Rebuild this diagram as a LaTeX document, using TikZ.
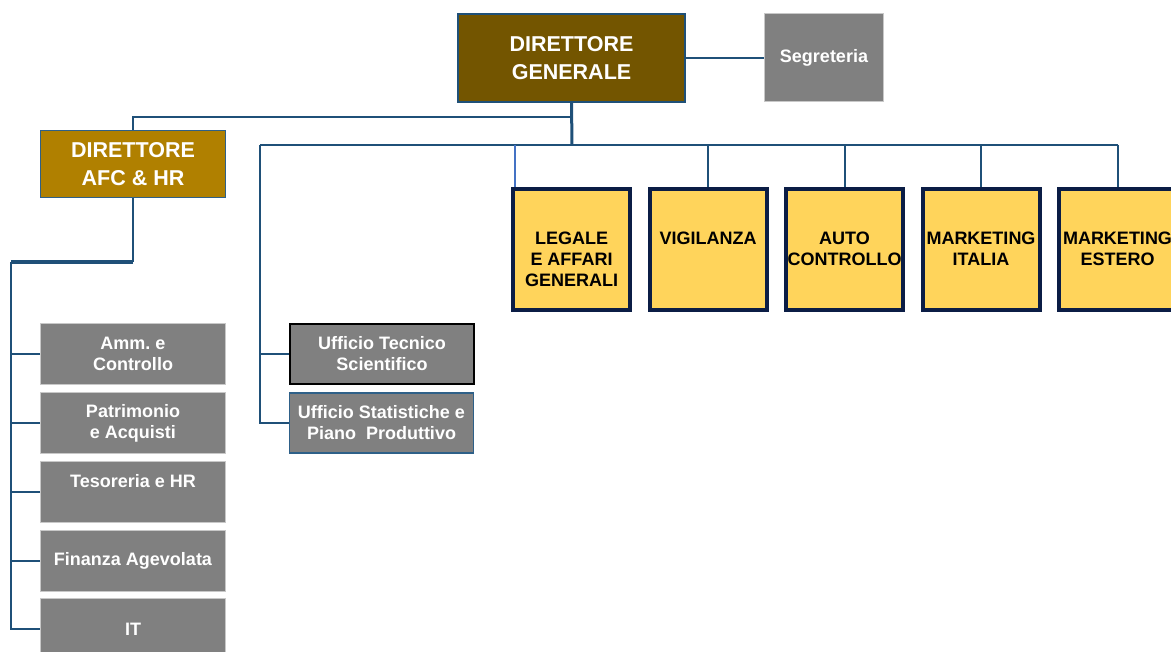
\documentclass[tikz,border=0pt]{standalone}
\usepackage{fontspec}
\setmainfont{Liberation Sans}
\usetikzlibrary{calc}
\definecolor{lineblue}{HTML}{1F5078}
\definecolor{lightblue}{HTML}{4472C4}
\definecolor{dgbrown}{HTML}{735500}
\definecolor{afcgold}{HTML}{B08000}
\definecolor{ybox}{HTML}{FFD45B}
\definecolor{navy}{HTML}{0B1D45}
\definecolor{gbox}{HTML}{808080}
\definecolor{gedge}{HTML}{C8C8C8}
\definecolor{statedge}{HTML}{2E6088}
\begin{document}
\begin{tikzpicture}[x=1pt,y=-1pt,
  conn/.style={draw=lineblue,line width=2pt},
  thickconn/.style={draw=lineblue,line width=3pt},
  dirbox/.style={rectangle,inner sep=0pt,text=white,align=center,font=\fontsize{21.5}{27.5}\selectfont\bfseries},
  graybox/.style={rectangle,inner sep=0pt,fill=gbox,draw=gedge,line width=0.8pt,minimum width=185pt,minimum height=61pt,text=white,align=center,font=\fontsize{18}{21}\selectfont\bfseries},
  ybx/.style={rectangle,inner sep=0pt,fill=ybox,draw=navy,line width=4pt,minimum width=117pt,minimum height=121pt},
  ytext/.style={anchor=base,inner sep=0pt,align=center,text=black,font=\fontsize{18}{21}\selectfont\bfseries}
]
\useasboundingbox (0,0) rectangle (1171,652);
% top
\node[dirbox,fill=dgbrown,draw=lineblue,line width=1.5pt,minimum width=227pt,minimum height=88pt] (dg) at (571.5,58) {DIRETTORE\\GENERALE};
\node[rectangle,inner sep=0pt,fill=gbox,draw=gedge,line width=1pt,minimum width=119pt,minimum height=88pt,text=white,font=\fontsize{18}{20}\selectfont\bfseries] (seg) at (824,58) {Segreteria};
\node[dirbox,fill=afcgold,draw=statedge,line width=1pt,minimum width=185pt,minimum height=67pt] (afc) at (133,164) {DIRETTORE\\AFC \& HR};
% yellow boxes
\node[ybx] (leg) at (571.5,249.5) {};
\node[ybx] (vig) at (708,249.5) {};
\node[ybx] (aut) at (844.5,249.5) {};
\node[ybx] (mit) at (981,249.5) {};
\node[ybx] (mes) at (1117.5,249.5) {};
\node[ytext] (legt) at (571.5,287) {LEGALE\\E AFFARI\\GENERALI};
\node[ytext] (vigt) at (708,245) {VIGILANZA};
\node[ytext] (autt) at (844.5,266) {AUTO\\CONTROLLO};
\node[ytext] (mitt) at (981,266) {MARKETING\\ITALIA};
\node[ytext] (mest) at (1117.5,266) {MARKETING\\ESTERO};
% gray left boxes
\node[graybox] (amm) at (133,354) {Amm.\ e\\Controllo};
\node[graybox] (pat) at (133,423) {Patrimonio\\e Acquisti};
\node[graybox] (tes) at (133,491.5) {};
\node[anchor=base,inner sep=0pt,text=white,font=\fontsize{18}{21}\selectfont\bfseries] (test) at (133,487.5) {Tesoreria e HR};
\node[graybox] (fin) at (133,560.5) {Finanza Agevolata};
\node[graybox] (it) at (133,629) {IT};
% uffici
\node[graybox,draw=black,line width=2pt,minimum width=184pt,minimum height=60pt] (tec) at (382,354) {Ufficio Tecnico\\Scientifico};
\node[graybox,draw=statedge,line width=1.5pt,minimum width=184pt,minimum height=60pt] (sta) at (381.5,423) {Ufficio Statistiche e\\Piano\ \ Produttivo};
% connectors
\coordinate (dgb) at (572,145);
\coordinate (hl) at (260,145);
\coordinate (hr) at (1118,145);
\coordinate (afcj) at (572,117);
\coordinate (lj) at (11,262);
\draw[conn] (dg.east) -- (seg.west);
\draw[thickconn] (dg.south) -- (dgb);
\draw[conn] (hl) -- (hr);
\draw[conn] (afcj) -| (afc.north);
\draw[conn] (hl) |- (sta.west);
\draw[conn] (tec.west) -- (tec.west -| hl);
\draw[draw=lightblue,line width=1.5pt] ([xshift=4pt]leg.north west |- hl) -- ([xshift=4pt]leg.north west);
\draw[conn] (vig.north |- hl) -- (vig.north);
\draw[conn] (aut.north |- hl) -- (aut.north);
\draw[conn] (mit.north |- hl) -- (mit.north);
\draw[conn] (mes.north |- hl) -- (mes.north);
\draw[conn] (afc.south) -- (afc.south |- lj);
\draw[line width=4pt,draw=lineblue] (afc.south |- lj) -- (lj);
\draw[conn] (lj) |- (it.west);
\foreach \b in {amm,pat,tes,fin} \draw[conn] (\b.west) -- (\b.west -| lj);
\end{tikzpicture}
\end{document}
